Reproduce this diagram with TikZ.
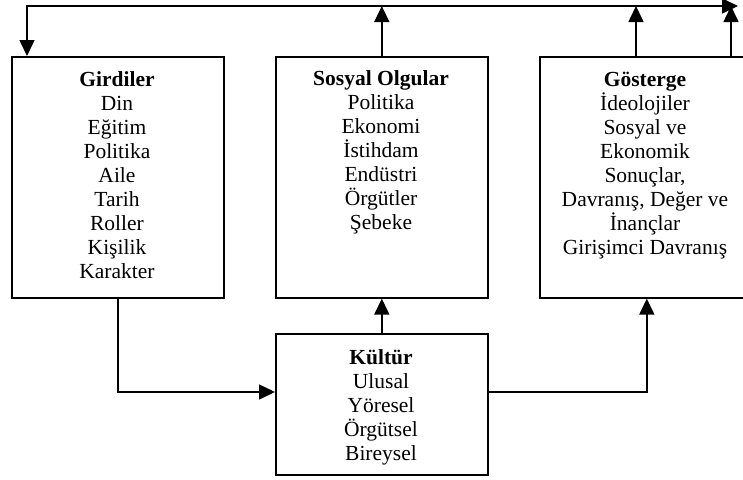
\documentclass[tikz,border=0pt]{standalone}
\usepackage{fontspec}
\setmainfont{Liberation Serif}
\usetikzlibrary{arrows.meta}
\newcommand\linesvt[1]{\vtop{\baselineskip=24pt\lineskiplimit=-10pt\halign{\hfil##\hfil\cr#1\crcr}}}
\tikzset{
  boxnode/.style={draw, line width=1.6pt, inner sep=0pt, minimum width=212pt, anchor=north west},
  txtnode/.style={inner sep=0pt, anchor=base, font=\fontsize{21.5}{24}\selectfont},
  tip/.tip={Triangle[length=16pt,width=15pt]},
  conn/.style={line width=1.6pt, -tip},
  conn2/.style={line width=1.6pt, tip-tip},
}
\begin{document}
\begin{tikzpicture}[x=1pt,y=-1pt]
\useasboundingbox (0,0) rectangle (743,479);
% boxes
\node[boxnode, minimum height=241pt] (gir) at (11,56) {};
\node[boxnode, minimum height=241pt] (sos) at (275,56) {};
\node[boxnode, minimum height=241pt, minimum width=214pt] (gos) at (539,56) {};
\node[boxnode, minimum height=141pt] (kul) at (275,333) {};
% texts
\node[txtnode] (girT) at (117,86) {\linesvt{\textbf{Girdiler}\cr Din\cr Eğitim\cr Politika\cr Aile\cr Tarih\cr Roller\cr Kişilik\cr Karakter}};
\node[txtnode] (sosT) at (381,85) {\linesvt{\textbf{Sosyal Olgular}\cr Politika\cr Ekonomi\cr İstihdam\cr Endüstri\cr Örgütler\cr Şebeke}};
\node[txtnode] (gosT) at (645,86) {\linesvt{\textbf{Gösterge}\cr İdeolojiler\cr Sosyal ve\cr Ekonomik\cr Sonuçlar,\cr Davranış, Değer ve\cr İnançlar\cr Girişimci Davranış}};
\node[txtnode] (kulT) at (381,364) {\linesvt{\textbf{Kültür}\cr Ulusal\cr Yöresel\cr Örgütsel\cr Bireysel}};
% coordinates
\coordinate (TL) at (27,6);
\coordinate (TR) at (738,6);
\coordinate (M) at (0,392);
\coordinate (G1) at (636,0);
\coordinate (G2) at (731,0);
% connectors
\draw[conn2] (TL |- gir.north) -- (TL) -- (TR);
\draw[conn] (sos.north) -- (sos.north |- TL);
\draw[conn] (G1 |- gos.north) -- (G1 |- TL);
\draw[conn] (G2 |- gos.north) -- (G2 |- TL);
\draw[conn] (kul.north) -- (sos.south);
\draw[conn] (gir.south) |- (kul.west |- M);
\draw[conn] (kul.east |- M) -| (gos.south);
\end{tikzpicture}
\end{document}
